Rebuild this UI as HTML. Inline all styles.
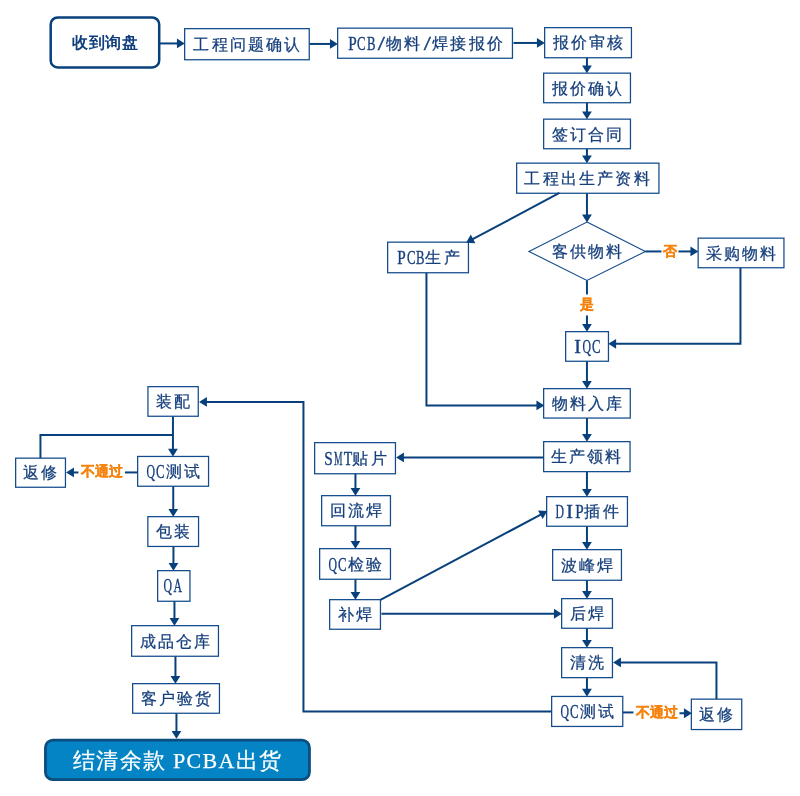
<!DOCTYPE html>
<html><head><meta charset="utf-8"><style>
html,body{margin:0;padding:0;background:#fff;width:800px;height:796px;overflow:hidden}
svg{position:absolute;left:0;top:0}
.t{position:absolute;width:300px;height:30px;line-height:30px;text-align:center;white-space:nowrap;will-change:transform}
.l{display:inline-block;letter-spacing:0;text-indent:0;transform-origin:50% 50%;-webkit-text-stroke-width:0.3px}
</style></head><body>
<svg width="800" height="796" viewBox="0 0 800 796">
<g transform="translate(0.45,0.45)">
<rect x="184.2" y="28.2" width="124.6" height="31.1" fill="#fff" stroke="#124a8c" stroke-width="1.25"/>
<rect x="337.2" y="27.7" width="174.80000000000004" height="30.1" fill="#fff" stroke="#124a8c" stroke-width="1.25"/>
<rect x="544.2" y="27.2" width="86.80000000000004" height="30.1" fill="#fff" stroke="#124a8c" stroke-width="1.25"/>
<rect x="543.2" y="72.7" width="86.80000000000004" height="29.6" fill="#fff" stroke="#124a8c" stroke-width="1.25"/>
<rect x="543.2" y="118.7" width="86.80000000000004" height="29.6" fill="#fff" stroke="#124a8c" stroke-width="1.25"/>
<rect x="516.2" y="162.7" width="142.30000000000004" height="30.1" fill="#fff" stroke="#124a8c" stroke-width="1.25"/>
<rect x="387.2" y="241.7" width="80.79999999999998" height="30.6" fill="#fff" stroke="#124a8c" stroke-width="1.25"/>
<rect x="697.7" y="237.7" width="85.80000000000004" height="29.6" fill="#fff" stroke="#124a8c" stroke-width="1.25"/>
<rect x="565.2" y="331.2" width="42.80000000000005" height="29.6" fill="#fff" stroke="#124a8c" stroke-width="1.25"/>
<rect x="543.2" y="388.2" width="86.6" height="29.400000000000013" fill="#fff" stroke="#124a8c" stroke-width="1.25"/>
<rect x="543.2" y="441.2" width="86.39999999999995" height="29.99999999999998" fill="#fff" stroke="#124a8c" stroke-width="1.25"/>
<rect x="314.2" y="442.2" width="80.79999999999998" height="31.1" fill="#fff" stroke="#124a8c" stroke-width="1.25"/>
<rect x="321.2" y="495.2" width="68.79999999999998" height="30.1" fill="#fff" stroke="#124a8c" stroke-width="1.25"/>
<rect x="319.2" y="548.2" width="70.79999999999998" height="30.6" fill="#fff" stroke="#124a8c" stroke-width="1.25"/>
<rect x="329.2" y="599.2" width="50.79999999999999" height="29.6" fill="#fff" stroke="#124a8c" stroke-width="1.25"/>
<rect x="546.2" y="496.2" width="80.80000000000004" height="29.6" fill="#fff" stroke="#124a8c" stroke-width="1.25"/>
<rect x="552.2" y="549.2" width="68.80000000000004" height="30.6" fill="#fff" stroke="#124a8c" stroke-width="1.25"/>
<rect x="561.2" y="598.2" width="50.80000000000005" height="29.6" fill="#fff" stroke="#124a8c" stroke-width="1.25"/>
<rect x="561.2" y="647.2" width="50.80000000000005" height="29.99999999999998" fill="#fff" stroke="#124a8c" stroke-width="1.25"/>
<rect x="551.2" y="696.0" width="71.1" height="30.000000000000092" fill="#fff" stroke="#124a8c" stroke-width="1.25"/>
<rect x="690.9000000000001" y="698.7" width="50.399999999999956" height="30.399999999999956" fill="#fff" stroke="#124a8c" stroke-width="1.25"/>
<rect x="147.5" y="386.2" width="50.29999999999999" height="29.6" fill="#fff" stroke="#124a8c" stroke-width="1.25"/>
<rect x="137.2" y="456.0" width="70.9" height="29.79999999999999" fill="#fff" stroke="#124a8c" stroke-width="1.25"/>
<rect x="15.2" y="457.7" width="49.800000000000004" height="29.1" fill="#fff" stroke="#124a8c" stroke-width="1.25"/>
<rect x="147.39999999999998" y="516.2" width="50.700000000000024" height="29.800000000000047" fill="#fff" stroke="#124a8c" stroke-width="1.25"/>
<rect x="157.2" y="570.2" width="32.29999999999999" height="30.6" fill="#fff" stroke="#124a8c" stroke-width="1.25"/>
<rect x="131.2" y="625.2" width="86.79999999999998" height="30.6" fill="#fff" stroke="#124a8c" stroke-width="1.25"/>
<rect x="132.2" y="683.2" width="86.79999999999998" height="29.6" fill="#fff" stroke="#124a8c" stroke-width="1.25"/>
<rect x="50.25" y="17" width="108.5" height="50" rx="7" fill="#fff" stroke="#08407c" stroke-width="2.5"/>
<rect x="45" y="739.7" width="264" height="39.5" rx="7.5" fill="#0484c4" stroke="#0b4d7e" stroke-width="2.8"/>
<polygon points="586.5,221.6 645,251 586.5,280 528.5,251" fill="#fff" stroke="#124a8c" stroke-width="1.1"/>
<polyline points="159.5,43 178.0,43.0" fill="none" stroke="#08407c" stroke-width="2.0" stroke-linejoin="miter"/>
<polygon points="184.4,43.0 176.5,47.9 176.5,38.1" fill="#08407c"/>
<polyline points="309,43.5 331.0,43.5" fill="none" stroke="#08407c" stroke-width="2.0" stroke-linejoin="miter"/>
<polygon points="337.4,43.5 329.5,48.4 329.5,38.6" fill="#08407c"/>
<polyline points="513,42.5 538.0,42.5" fill="none" stroke="#08407c" stroke-width="2.0" stroke-linejoin="miter"/>
<polygon points="544.4,42.5 536.5,47.4 536.5,37.6" fill="#08407c"/>
<polyline points="586.5,57.5 586.5,66.5" fill="none" stroke="#08407c" stroke-width="2.0" stroke-linejoin="miter"/>
<polygon points="586.5,72.9 581.6,65.0 591.4,65.0" fill="#08407c"/>
<polyline points="586.5,102.5 586.5,112.5" fill="none" stroke="#08407c" stroke-width="2.0" stroke-linejoin="miter"/>
<polygon points="586.5,118.9 581.6,111.0 591.4,111.0" fill="#08407c"/>
<polyline points="586.5,148.5 586.5,156.5" fill="none" stroke="#08407c" stroke-width="2.0" stroke-linejoin="miter"/>
<polygon points="586.5,162.9 581.6,155.0 591.4,155.0" fill="#08407c"/>
<polyline points="586.5,193 586.5,215.6" fill="none" stroke="#08407c" stroke-width="2.0" stroke-linejoin="miter"/>
<polygon points="586.5,222.0 581.6,214.1 591.4,214.1" fill="#08407c"/>
<polyline points="559,192.5 471.29648055447547,239.18090551132758" fill="none" stroke="#08407c" stroke-width="2.0" stroke-linejoin="miter"/>
<polygon points="465.6469012963683,242.18793963257815 470.31834019401185,234.15067276967116 474.9228611921768,242.80159100864776" fill="#08407c"/>
<polyline points="645,251 661,251" fill="none" stroke="#08407c" stroke-width="2.0" stroke-linejoin="miter"/>
<polyline points="678,251 691.5,251.0" fill="none" stroke="#08407c" stroke-width="2.0" stroke-linejoin="miter"/>
<polygon points="697.9,251.0 690.0,255.9 690.0,246.1" fill="#08407c"/>
<polyline points="586.5,280 586.5,294" fill="none" stroke="#08407c" stroke-width="2.0" stroke-linejoin="miter"/>
<polyline points="586.5,315 586.5,325.0" fill="none" stroke="#08407c" stroke-width="2.0" stroke-linejoin="miter"/>
<polygon points="586.5,331.4 581.6,323.5 591.4,323.5" fill="#08407c"/>
<polyline points="740,267.5 740,343.4 614.2,343.4" fill="none" stroke="#08407c" stroke-width="2.0" stroke-linejoin="miter"/>
<polygon points="607.8000000000001,343.4 615.7,338.5 615.7,348.29999999999995" fill="#08407c"/>
<polyline points="586.5,361 586.5,382.0" fill="none" stroke="#08407c" stroke-width="2.0" stroke-linejoin="miter"/>
<polygon points="586.5,388.4 581.6,380.5 591.4,380.5" fill="#08407c"/>
<polyline points="426,272.5 426,405 537.5,405.0" fill="none" stroke="#08407c" stroke-width="2.0" stroke-linejoin="miter"/>
<polygon points="543.9,405.0 536.0,409.9 536.0,400.1" fill="#08407c"/>
<polyline points="586.5,417.8 586.5,435.0" fill="none" stroke="#08407c" stroke-width="2.0" stroke-linejoin="miter"/>
<polygon points="586.5,441.4 581.6,433.5 591.4,433.5" fill="#08407c"/>
<polyline points="543,457 402.0,457.0" fill="none" stroke="#08407c" stroke-width="2.0" stroke-linejoin="miter"/>
<polygon points="395.6,457.0 403.5,452.1 403.5,461.9" fill="#08407c"/>
<polyline points="586.5,471.4 586.5,490.0" fill="none" stroke="#08407c" stroke-width="2.0" stroke-linejoin="miter"/>
<polygon points="586.5,496.4 581.6,488.5 591.4,488.5" fill="#08407c"/>
<polyline points="355,473.5 355.0,489.0" fill="none" stroke="#08407c" stroke-width="2.0" stroke-linejoin="miter"/>
<polygon points="355.0,495.4 350.1,487.5 359.9,487.5" fill="#08407c"/>
<polyline points="355,525.5 355.0,542.0" fill="none" stroke="#08407c" stroke-width="2.0" stroke-linejoin="miter"/>
<polygon points="355.0,548.4 350.1,540.5 359.9,540.5" fill="#08407c"/>
<polyline points="355,579 355.0,593.0" fill="none" stroke="#08407c" stroke-width="2.0" stroke-linejoin="miter"/>
<polygon points="355.0,599.4 350.1,591.5 359.9,591.5" fill="#08407c"/>
<polyline points="380,599.5 541.2045623328103,513.6210529794579" fill="none" stroke="#08407c" stroke-width="2.0" stroke-linejoin="miter"/>
<polygon points="546.8530291778127,510.6119298013695 542.1845628492367,518.6509236525274 537.576842982789,510.0017087961174" fill="#08407c"/>
<polyline points="381,613.3 555.0,613.3" fill="none" stroke="#08407c" stroke-width="2.0" stroke-linejoin="miter"/>
<polygon points="561.4,613.3 553.5,618.1999999999999 553.5,608.4" fill="#08407c"/>
<polyline points="586.5,526 586.5,543.0" fill="none" stroke="#08407c" stroke-width="2.0" stroke-linejoin="miter"/>
<polygon points="586.5,549.4 581.6,541.5 591.4,541.5" fill="#08407c"/>
<polyline points="586.5,580 586.5,592.0" fill="none" stroke="#08407c" stroke-width="2.0" stroke-linejoin="miter"/>
<polygon points="586.5,598.4 581.6,590.5 591.4,590.5" fill="#08407c"/>
<polyline points="586.5,628 586.5,641.0" fill="none" stroke="#08407c" stroke-width="2.0" stroke-linejoin="miter"/>
<polygon points="586.5,647.4 581.6,639.5 591.4,639.5" fill="#08407c"/>
<polyline points="586.5,677.4 586.5,689.8" fill="none" stroke="#08407c" stroke-width="2.0" stroke-linejoin="miter"/>
<polygon points="586.5,696.1999999999999 581.6,688.3 591.4,688.3" fill="#08407c"/>
<polyline points="622.5,712 633,712" fill="none" stroke="#08407c" stroke-width="2.0" stroke-linejoin="miter"/>
<polyline points="679,712.8 685.0,712.8" fill="none" stroke="#08407c" stroke-width="2.0" stroke-linejoin="miter"/>
<polygon points="691.4,712.8 683.5,717.6999999999999 683.5,707.9" fill="#08407c"/>
<polyline points="716,698.5 716,662 619.0,662.0" fill="none" stroke="#08407c" stroke-width="2.0" stroke-linejoin="miter"/>
<polygon points="612.6,662.0 620.5,657.1 620.5,666.9" fill="#08407c"/>
<polyline points="551,711 303,711 303,401.5 205.0,401.5" fill="none" stroke="#08407c" stroke-width="2.0" stroke-linejoin="miter"/>
<polygon points="198.6,401.5 206.5,396.6 206.5,406.4" fill="#08407c"/>
<polyline points="172.5,416 172.5,449.8" fill="none" stroke="#08407c" stroke-width="2.0" stroke-linejoin="miter"/>
<polygon points="172.5,456.2 167.6,448.3 177.4,448.3" fill="#08407c"/>
<polyline points="40,457.5 40,434.5 172.5,434.5" fill="none" stroke="#08407c" stroke-width="2.0" stroke-linejoin="miter"/>
<polyline points="137,472 124.5,472" fill="none" stroke="#08407c" stroke-width="2.0" stroke-linejoin="miter"/>
<polyline points="78,472 72.0,472.0" fill="none" stroke="#08407c" stroke-width="2.0" stroke-linejoin="miter"/>
<polygon points="65.6,472.0 73.5,467.1 73.5,476.9" fill="#08407c"/>
<polyline points="172.8,486 172.8,510.0" fill="none" stroke="#08407c" stroke-width="2.0" stroke-linejoin="miter"/>
<polygon points="172.8,516.4 167.9,508.5 177.70000000000002,508.5" fill="#08407c"/>
<polyline points="173,546.2 173.0,564.0" fill="none" stroke="#08407c" stroke-width="2.0" stroke-linejoin="miter"/>
<polygon points="173.0,570.4 168.1,562.5 177.9,562.5" fill="#08407c"/>
<polyline points="174,601 174.0,619.0" fill="none" stroke="#08407c" stroke-width="2.0" stroke-linejoin="miter"/>
<polygon points="174.0,625.4 169.1,617.5 178.9,617.5" fill="#08407c"/>
<polyline points="175,656 175.0,677.0" fill="none" stroke="#08407c" stroke-width="2.0" stroke-linejoin="miter"/>
<polygon points="175.0,683.4 170.1,675.5 179.9,675.5" fill="#08407c"/>
<polyline points="176,713 176.0,732.0" fill="none" stroke="#08407c" stroke-width="2.0" stroke-linejoin="miter"/>
<polygon points="176.0,738.4 171.1,730.5 180.9,730.5" fill="#08407c"/>
</g>
</svg>
<div class="t" style="left:96.5px;top:29.85px;font-size:16px;letter-spacing:2.2px;text-indent:2.2px;color:#153f7c;font-weight:normal;font-family:'Liberation Serif', serif;-webkit-text-stroke:0.25px #153f7c">工程问题确认</div>
<div class="t" style="left:274.6px;top:28.85px;font-size:16px;letter-spacing:2.2px;text-indent:2.2px;color:#153f7c;font-weight:normal;font-family:'Liberation Serif', serif;-webkit-text-stroke:0.25px #153f7c"><span class="l" style="margin:0 0.40px;transform:scale(0.953,1.17)">P</span><span class="l" style="margin:0 -0.49px;transform:scale(0.795,1.17)">C</span><span class="l" style="margin:0 -0.49px;transform:scale(0.795,1.17)">B</span><span class="l" style="margin:0 2.62px;transform:scale(1.600,1.17)">/</span>物料<span class="l" style="margin:0 2.62px;transform:scale(1.600,1.17)">/</span>焊接报价</div>
<div class="t" style="left:437.6px;top:28.35px;font-size:16px;letter-spacing:2.2px;text-indent:2.2px;color:#153f7c;font-weight:normal;font-family:'Liberation Serif', serif;-webkit-text-stroke:0.25px #153f7c">报价审核</div>
<div class="t" style="left:436.6px;top:73.6px;font-size:16px;letter-spacing:2.2px;text-indent:2.2px;color:#153f7c;font-weight:normal;font-family:'Liberation Serif', serif;-webkit-text-stroke:0.25px #153f7c">报价确认</div>
<div class="t" style="left:436.6px;top:119.6px;font-size:16px;letter-spacing:2.2px;text-indent:2.2px;color:#153f7c;font-weight:normal;font-family:'Liberation Serif', serif;-webkit-text-stroke:0.25px #153f7c">签订合同</div>
<div class="t" style="left:437.35px;top:163.85px;font-size:16px;letter-spacing:2.2px;text-indent:2.2px;color:#153f7c;font-weight:normal;font-family:'Liberation Serif', serif;-webkit-text-stroke:0.25px #153f7c">工程出生产资料</div>
<div class="t" style="left:277.6px;top:243.1px;font-size:16px;letter-spacing:2.2px;text-indent:2.2px;color:#153f7c;font-weight:normal;font-family:'Liberation Serif', serif;-webkit-text-stroke:0.25px #153f7c"><span class="l" style="margin:0 0.40px;transform:scale(0.953,1.17)">P</span><span class="l" style="margin:0 -0.49px;transform:scale(0.795,1.17)">C</span><span class="l" style="margin:0 -0.49px;transform:scale(0.795,1.17)">B</span>生产</div>
<div class="t" style="left:590.6px;top:238.6px;font-size:16px;letter-spacing:2.2px;text-indent:2.2px;color:#153f7c;font-weight:normal;font-family:'Liberation Serif', serif;-webkit-text-stroke:0.25px #153f7c">采购物料</div>
<div class="t" style="left:436.6px;top:331.5px;font-size:16px;letter-spacing:2.2px;text-indent:0px;color:#153f7c;font-weight:normal;font-family:'Liberation Serif', serif;-webkit-text-stroke:0.25px #153f7c"><span class="l" style="margin:0 2.18px;transform:scale(1.250,1.17)">I</span><span class="l" style="margin:0 -0.93px;transform:scale(0.734,1.17)">Q</span><span class="l" style="margin:0 -0.49px;transform:scale(0.795,1.17)">C</span></div>
<div class="t" style="left:436.5px;top:389.0px;font-size:16px;letter-spacing:2.2px;text-indent:2.2px;color:#153f7c;font-weight:normal;font-family:'Liberation Serif', serif;-webkit-text-stroke:0.25px #153f7c">物料入库</div>
<div class="t" style="left:436.4px;top:442.3px;font-size:16px;letter-spacing:2.2px;text-indent:2.2px;color:#153f7c;font-weight:normal;font-family:'Liberation Serif', serif;-webkit-text-stroke:0.25px #153f7c">生产领料</div>
<div class="t" style="left:204.60000000000002px;top:443.85px;font-size:16px;letter-spacing:2.2px;text-indent:2.2px;color:#153f7c;font-weight:normal;font-family:'Liberation Serif', serif;-webkit-text-stroke:0.25px #153f7c"><span class="l" style="margin:0 0.40px;transform:scale(0.953,1.17)">S</span><span class="l" style="margin:0 -2.27px;transform:scale(0.596,1.17)">M</span><span class="l" style="margin:0 -0.04px;transform:scale(0.868,1.17)">T</span>贴片</div>
<div class="t" style="left:205.60000000000002px;top:496.35px;font-size:16px;letter-spacing:2.2px;text-indent:2.2px;color:#153f7c;font-weight:normal;font-family:'Liberation Serif', serif;-webkit-text-stroke:0.25px #153f7c">回流焊</div>
<div class="t" style="left:204.60000000000002px;top:549.6px;font-size:16px;letter-spacing:2.2px;text-indent:2.2px;color:#153f7c;font-weight:normal;font-family:'Liberation Serif', serif;-webkit-text-stroke:0.25px #153f7c"><span class="l" style="margin:0 -0.93px;transform:scale(0.734,1.17)">Q</span><span class="l" style="margin:0 -0.49px;transform:scale(0.795,1.17)">C</span>检验</div>
<div class="t" style="left:204.60000000000002px;top:600.1px;font-size:16px;letter-spacing:2.2px;text-indent:2.2px;color:#153f7c;font-weight:normal;font-family:'Liberation Serif', serif;-webkit-text-stroke:0.25px #153f7c">补焊</div>
<div class="t" style="left:436.6px;top:497.1px;font-size:16px;letter-spacing:2.2px;text-indent:2.2px;color:#153f7c;font-weight:normal;font-family:'Liberation Serif', serif;-webkit-text-stroke:0.25px #153f7c"><span class="l" style="margin:0 -0.93px;transform:scale(0.734,1.17)">D</span><span class="l" style="margin:0 2.18px;transform:scale(1.250,1.17)">I</span><span class="l" style="margin:0 0.40px;transform:scale(0.953,1.17)">P</span>插件</div>
<div class="t" style="left:436.6px;top:550.6px;font-size:16px;letter-spacing:2.2px;text-indent:2.2px;color:#153f7c;font-weight:normal;font-family:'Liberation Serif', serif;-webkit-text-stroke:0.25px #153f7c">波峰焊</div>
<div class="t" style="left:436.6px;top:599.1px;font-size:16px;letter-spacing:2.2px;text-indent:2.2px;color:#153f7c;font-weight:normal;font-family:'Liberation Serif', serif;-webkit-text-stroke:0.25px #153f7c">后焊</div>
<div class="t" style="left:436.6px;top:648.3000000000001px;font-size:16px;letter-spacing:2.2px;text-indent:2.2px;color:#153f7c;font-weight:normal;font-family:'Liberation Serif', serif;-webkit-text-stroke:0.25px #153f7c">清洗</div>
<div class="t" style="left:436.75px;top:697.1px;font-size:16px;letter-spacing:2.2px;text-indent:2.2px;color:#153f7c;font-weight:normal;font-family:'Liberation Serif', serif;-webkit-text-stroke:0.25px #153f7c"><span class="l" style="margin:0 -0.93px;transform:scale(0.734,1.17)">Q</span><span class="l" style="margin:0 -0.49px;transform:scale(0.795,1.17)">C</span>测试</div>
<div class="t" style="left:566.1px;top:700.0px;font-size:16px;letter-spacing:2.2px;text-indent:2.2px;color:#153f7c;font-weight:normal;font-family:'Liberation Serif', serif;-webkit-text-stroke:0.25px #153f7c">返修</div>
<div class="t" style="left:22.650000000000006px;top:387.1px;font-size:16px;letter-spacing:2.2px;text-indent:2.2px;color:#153f7c;font-weight:normal;font-family:'Liberation Serif', serif;-webkit-text-stroke:0.25px #153f7c">装配</div>
<div class="t" style="left:22.650000000000006px;top:457.0px;font-size:16px;letter-spacing:2.2px;text-indent:2.2px;color:#153f7c;font-weight:normal;font-family:'Liberation Serif', serif;-webkit-text-stroke:0.25px #153f7c"><span class="l" style="margin:0 -0.93px;transform:scale(0.734,1.17)">Q</span><span class="l" style="margin:0 -0.49px;transform:scale(0.795,1.17)">C</span>测试</div>
<div class="t" style="left:-109.9px;top:458.35px;font-size:16px;letter-spacing:2.2px;text-indent:2.2px;color:#153f7c;font-weight:normal;font-family:'Liberation Serif', serif;-webkit-text-stroke:0.25px #153f7c">返修</div>
<div class="t" style="left:22.75px;top:517.2px;font-size:16px;letter-spacing:2.2px;text-indent:2.2px;color:#153f7c;font-weight:normal;font-family:'Liberation Serif', serif;-webkit-text-stroke:0.25px #153f7c">包装</div>
<div class="t" style="left:23.349999999999994px;top:571.0px;font-size:16px;letter-spacing:2.2px;text-indent:0px;color:#153f7c;font-weight:normal;font-family:'Liberation Serif', serif;-webkit-text-stroke:0.25px #153f7c"><span class="l" style="margin:0 -0.93px;transform:scale(0.734,1.17)">Q</span><span class="l" style="margin:0 -0.93px;transform:scale(0.734,1.17)">A</span></div>
<div class="t" style="left:24.599999999999994px;top:626.6px;font-size:16px;letter-spacing:2.2px;text-indent:2.2px;color:#153f7c;font-weight:normal;font-family:'Liberation Serif', serif;-webkit-text-stroke:0.25px #153f7c">成品仓库</div>
<div class="t" style="left:25.599999999999994px;top:684.1px;font-size:16px;letter-spacing:2.2px;text-indent:2.2px;color:#153f7c;font-weight:normal;font-family:'Liberation Serif', serif;-webkit-text-stroke:0.25px #153f7c">客户验货</div>
<div class="t" style="left:437px;top:237.1px;font-size:16px;letter-spacing:2.2px;text-indent:2.2px;color:#153f7c;font-weight:normal;font-family:'Liberation Serif', serif;-webkit-text-stroke:0.25px #153f7c">客供物料</div>
<div class="t" style="left:-45.5px;top:27.8px;font-size:16px;letter-spacing:0.5px;text-indent:0.5px;color:#113f7e;font-weight:bold;font-family:'Liberation Sans', sans-serif;-webkit-text-stroke:0px #113f7e">收到询盘</div>
<div class="t" style="left:26.5px;top:746.1px;font-size:22px;letter-spacing:1.3px;text-indent:1.3px;color:#fff;font-weight:normal;font-family:'Liberation Serif', serif;-webkit-text-stroke:0.25px #fff">结清余款 PCBA出货</div>
<div class="t" style="left:520px;top:235.9px;font-size:14px;letter-spacing:0px;text-indent:0px;color:#f5830f;font-weight:bold;font-family:'Liberation Sans', sans-serif;-webkit-text-stroke:0.3px #f5830f">否</div>
<div class="t" style="left:437px;top:288.9px;font-size:14px;letter-spacing:0px;text-indent:0px;color:#f5830f;font-weight:bold;font-family:'Liberation Sans', sans-serif;-webkit-text-stroke:0.3px #f5830f">是</div>
<div class="t" style="left:-48.5px;top:456.4px;font-size:14px;letter-spacing:0px;text-indent:0px;color:#f5830f;font-weight:bold;font-family:'Liberation Sans', sans-serif;-webkit-text-stroke:0.3px #f5830f">不通过</div>
<div class="t" style="left:506.5px;top:697.4px;font-size:14px;letter-spacing:0px;text-indent:0px;color:#f5830f;font-weight:bold;font-family:'Liberation Sans', sans-serif;-webkit-text-stroke:0.3px #f5830f">不通过</div>
</body></html>
